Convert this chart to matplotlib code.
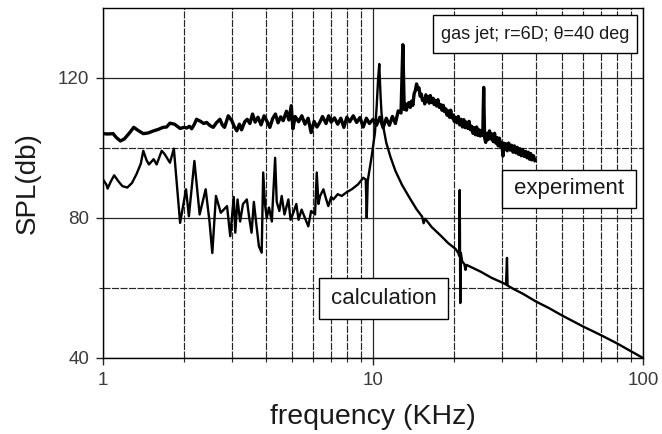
import matplotlib
matplotlib.use('Agg')
import matplotlib.pyplot as plt
from matplotlib.patches import Rectangle
from matplotlib.ticker import NullFormatter

plt.rcParams['font.family'] = ['Liberation Sans', 'DejaVu Sans']

# measured spectrum (kHz, dB)
exp_f = [1.00, 1.04, 1.09, 1.12, 1.16, 1.20, 1.25, 1.30, 1.35, 1.41, 1.47, 1.54,
         1.60, 1.67, 1.72, 1.77, 1.84, 1.93, 2.00, 2.04, 2.09, 2.13, 2.18, 2.22,
         2.30, 2.36, 2.42, 2.49, 2.56, 2.63, 2.71, 2.77, 2.82, 2.91, 3.00, 3.06,
         3.13, 3.20, 3.26, 3.35, 3.42, 3.50, 3.58, 3.66, 3.75, 3.85, 3.95, 4.05,
         4.15, 4.25, 4.35, 4.45, 4.55, 4.65, 4.78, 4.88, 4.98, 5.05, 5.15, 5.30,
         5.45, 5.60, 5.75, 5.90, 6.05, 6.20, 6.35, 6.50, 6.70, 6.85, 7.00, 7.20,
         7.40, 7.60, 7.80, 8.00, 8.20, 8.45, 8.70, 8.95, 9.20, 9.45, 9.70, 10.0,
         10.3, 10.6, 10.9, 11.2, 11.5, 11.8, 12.1, 12.4, 12.7, 12.9, 13.05, 13.2,
         13.3, 13.45, 13.6, 13.75, 13.9, 14.05, 14.2, 14.35, 14.5, 14.65, 14.8, 14.95,
         15.1, 15.25, 15.4, 15.55, 15.7, 15.85, 16.0, 16.15, 16.3, 16.5, 16.7, 16.85,
         17.0, 17.2, 17.4, 17.6, 17.8, 18.0, 18.2, 18.4, 18.6, 18.8, 19.0, 19.2,
         19.4, 19.6, 19.8, 20.0, 20.2, 20.45, 20.7, 20.95, 21.2, 21.45, 21.7, 21.95,
         22.2, 22.45, 22.7, 22.95, 23.2, 23.45, 23.7, 23.95, 24.2, 24.45, 24.7, 24.95,
         25.2, 25.5, 25.7, 25.9, 26.15, 26.4, 26.7, 27.0, 27.3, 27.6, 27.9, 28.2,
         28.5, 28.8, 29.1, 29.4, 29.7, 30.0, 30.3, 30.5, 30.8, 31.1, 31.4, 31.8,
         32.2, 32.6, 33.0, 33.4, 33.8, 34.2, 34.6, 35.0, 35.4, 35.8, 36.3, 36.8,
         37.2, 37.6, 38.0, 38.4, 38.8, 39.3, 39.8]
exp_db = [104.1, 104.0, 104.1, 103.0, 102.0, 102.6, 104.2, 105.9, 105.0, 104.1, 104.3, 104.9,
          105.3, 105.9, 106.0, 107.1, 106.8, 105.6, 105.9, 105.7, 106.2, 105.5, 106.8, 108.2,
          107.6, 107.0, 107.3, 106.4, 105.9, 107.2, 108.2, 106.5, 105.9, 109.2, 107.8, 106.2,
          104.9, 106.8, 105.2, 107.5, 108.2, 107.0, 109.7, 107.4, 108.8, 106.6, 109.2, 107.6,
          105.9, 108.4, 109.7, 107.2, 108.9, 107.8, 110.5, 108.0, 112.1, 105.5, 109.0, 107.5,
          109.2, 106.8, 108.5, 104.4, 107.6, 106.0, 107.3, 109.0, 107.0, 109.2, 107.4, 108.6,
          106.8, 108.5, 105.9, 108.8, 107.5, 109.2, 107.3, 108.7, 106.0, 108.5, 107.0, 108.2,
          106.5, 108.8, 105.8, 108.5, 106.5, 109.0, 107.0, 110.6, 110.0, 129.5, 111.0, 112.5,
          110.8, 112.6, 113.0, 111.6, 113.4, 112.2, 115.5, 116.4, 118.3, 116.8, 117.2, 114.8,
          115.4, 113.6, 114.0, 112.6, 115.2, 113.4, 114.6, 112.8, 115.0, 113.0, 114.2, 112.4,
          113.6, 112.0, 113.8, 111.6, 112.4, 110.8, 112.2, 110.4, 111.2, 109.4, 110.6, 108.8,
          110.8, 108.6, 109.4, 107.6, 108.8, 107.2, 109.0, 106.6, 108.2, 106.0, 108.1, 105.8,
          107.4, 105.6, 107.6, 105.2, 106.2, 104.2, 105.8, 103.8, 106.0, 103.6, 105.2, 103.4,
          105.0, 103.6, 117.3, 103.0, 101.6, 104.2, 102.4, 104.9, 102.6, 104.0, 101.8, 104.2,
          101.4, 103.0, 100.6, 102.8, 100.4, 101.4, 97.7, 101.4, 99.6, 101.2, 99.2, 101.4,
          99.4, 100.8, 98.8, 100.6, 98.6, 100.2, 98.2, 99.8, 97.8, 99.6, 97.6, 99.0,
          97.2, 98.8, 96.8, 98.4, 96.6, 97.8, 96.4]

# computed spectrum (kHz, dB)
calc_f = [1.00, 1.03, 1.04, 1.07, 1.10, 1.14, 1.18, 1.23, 1.28, 1.33, 1.38, 1.41,
          1.45, 1.48, 1.54, 1.58, 1.65, 1.69, 1.77, 1.83, 1.88, 1.93, 1.98, 2.03,
          2.08, 2.18, 2.28, 2.40, 2.48, 2.54, 2.62, 2.73, 2.88, 2.96, 3.05, 3.09,
          3.15, 3.22, 3.30, 3.41, 3.48, 3.55, 3.62, 3.70, 3.78, 3.87, 3.92, 3.98,
          4.04, 4.12, 4.22, 4.34, 4.40, 4.50, 4.59, 4.70, 4.86, 4.95, 5.07, 5.20,
          5.30, 5.44, 5.60, 5.76, 5.90, 6.10, 6.19, 6.28, 6.37, 6.55, 6.70, 6.83,
          7.00, 7.13, 7.40, 7.66, 8.00, 8.34, 8.80, 9.21, 9.40, 9.48, 9.56, 9.61,
          9.89, 10.17, 10.32, 10.45, 10.55, 10.65, 10.75, 10.9, 11.2, 11.6, 12.1, 12.8,
          13.6, 14.5, 15.2, 15.4, 15.6, 16.5, 17.8, 19.0, 20.2, 20.7, 20.85, 20.95,
          21.05, 21.15, 21.4, 21.8, 22.0, 22.2, 23.5, 25.0, 27.5, 30.0, 31.1, 31.35,
          31.5, 33.0, 36.0, 40.0, 45.0, 50.0, 60.0, 70.0, 80.0, 90.0, 100.0]
calc_db = [91.0, 89.5, 88.4, 90.5, 92.2, 90.5, 89.1, 88.7, 90.0, 92.5, 95.5, 99.2,
           96.5, 95.3, 96.8, 95.3, 99.2, 98.3, 95.8, 99.8, 89.1, 78.6, 83.4, 88.2,
           80.5, 96.3, 81.0, 88.2, 79.0, 70.0, 86.3, 81.5, 83.4, 74.8, 86.0, 75.8,
           85.3, 79.0, 84.0, 85.3, 80.0, 75.8, 84.6, 78.0, 71.9, 70.1, 93.0, 84.0,
           80.0, 83.0, 79.0, 97.2, 84.6, 82.0, 86.3, 81.0, 85.3, 79.5, 81.5, 84.0,
           79.5, 82.4, 80.0, 77.6, 82.0, 81.0, 93.0, 84.0, 86.3, 88.2, 85.5, 83.4,
           86.0, 85.3, 86.8, 86.3, 87.4, 88.2, 89.6, 91.5, 91.0, 80.0, 90.5, 91.7,
           97.7, 104.4, 112.0, 120.0, 124.0, 116.0, 110.0, 106.3, 101.5, 97.5, 93.5, 89.5,
           86.0, 82.5, 80.4, 78.5, 79.8, 77.4, 75.0, 72.8, 71.2, 70.0, 69.2, 88.0,
           55.7, 70.0, 67.6, 66.8, 65.2, 66.6, 65.7, 64.7, 62.9, 61.6, 61.0, 68.6,
           60.7, 59.8, 58.3, 56.2, 54.2, 52.2, 49.0, 46.5, 44.2, 42.0, 40.0]

fig = plt.figure(figsize=(6.62, 4.34), dpi=100)
ax = fig.add_axes([103 / 662, 76 / 434, 540 / 662, 350 / 434])

ax.plot(exp_f, exp_db, color='black', lw=2.4, zorder=3)
ax.plot(calc_f, calc_db, color='black', lw=1.7, zorder=3)

ax.set_xscale('log')
ax.set_xlim(1, 100)
ax.set_ylim(40, 140)
ax.set_xticks([1, 10, 100], labels=['1', '10', '100'])
ax.xaxis.set_minor_formatter(NullFormatter())
ax.set_yticks([40, 80, 120])
ax.set_yticks([60, 100], minor=True)

gc = '#262626'
ax.grid(which='major', color=gc, lw=0.9, ls='-', zorder=1)
ax.grid(which='minor', color=gc, lw=0.85, ls=(0, (6, 1.2)), zorder=1)

for s in ax.spines.values():
    s.set_color('black')
    s.set_linewidth(1.0)
ax.tick_params(which='major', length=5, width=1.0, color=gc,
               labelsize=13.5, labelcolor='#3a3a3a', pad=5)
ax.tick_params(which='minor', length=3, width=0.8, color=gc)

ax.set_xlabel('frequency (KHz)', fontsize=20.5, color='#1a1a1a', labelpad=11)
ax.set_ylabel('SPL(db)', fontsize=20, color='#1a1a1a', labelpad=12)

# framed labels
boxes = [
    ('gas jet; r=6D; \u03b8=40 deg', 0.611, 0.871, 0.989, 0.980, 13),
    ('experiment', 0.739, 0.429, 0.987, 0.537, 16),
    ('calculation', 0.400, 0.111, 0.639, 0.229, 16),
]
for txt, x0, y0, x1, y1, fs in boxes:
    ax.add_patch(Rectangle((x0, y0), x1 - x0, y1 - y0, transform=ax.transAxes,
                           facecolor='white', edgecolor='black', lw=1.0, zorder=4))
    ax.text((x0 + x1) / 2, (y0 + y1) / 2, txt, transform=ax.transAxes,
            ha='center', va='center', fontsize=fs, color='#1a1a1a', zorder=5)

fig.savefig('out.png', dpi=100)
